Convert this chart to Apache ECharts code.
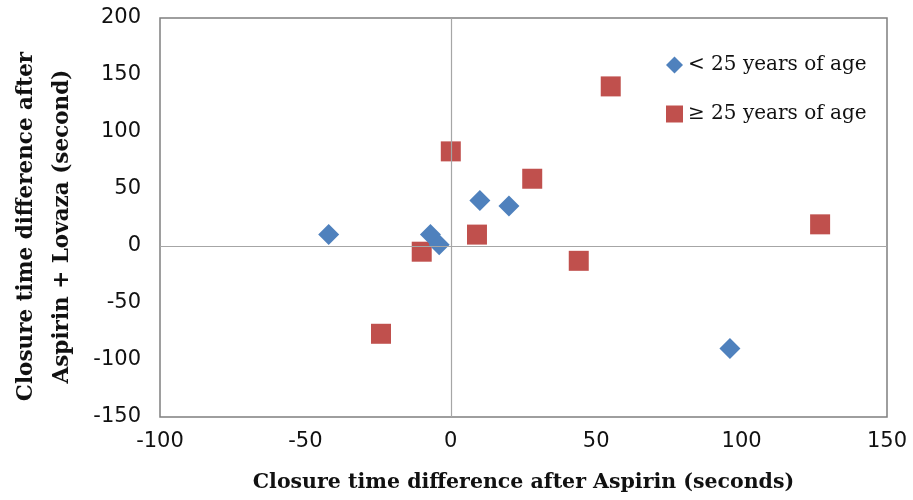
<!DOCTYPE html>
<html>
<head>
<meta charset="utf-8">
<script src="https://cdn.jsdelivr.net/npm/echarts@6/dist/echarts.min.js"></script>
<style>
  html, body { margin: 0; padding: 0; background: #fff; }
  #chart { width: 913px; height: 500px; }
</style>
</head>
<body>
<div id="chart"></div>
<script>
// values
var youngX = [-42, -7, -4, 10, 20, 96];
var youngY = [10, 10, 1, 40, 35, -90];
var oldX = [0, 55, 28, 9, -10, -24, 44, 127];
var oldY = [83, 140, 59, 10, -5, -77, -13, 19];
var seriesNames = ['< 25 years of age', '\u2265 25 years of age'];
var xTicks = { min: -100, max: 150, interval: 50 };
var yTicks = { min: -150, max: 200, interval: 50 };

function pairs(xs, ys) {
    return xs.map(function (x, i) { return [x, ys[i]]; });
}

var chart = echarts.init(document.getElementById('chart'));

var option = {
    animation: false,
    backgroundColor: '#ffffff',
    grid: {
        left: 160,
        right: 26,
        top: 18,
        bottom: 83,
        outerBoundsMode: 'none',
        containLabel: false,
        show: true,
        borderColor: '#7f7f7f',
        borderWidth: 1.5,
        backgroundColor: 'transparent'
    },
    legend: {
        orient: 'vertical',
        left: 661,
        top: 50,
        itemWidth: 17,
        itemHeight: 17,
        itemGap: 29,
        textStyle: {
            fontFamily: 'DejaVu Serif',
            fontSize: 20,
            color: '#111',
            lineHeight: 20
        },
        data: [
            { name: seriesNames[0], icon: 'diamond' },
            { name: seriesNames[1], icon: 'rect' }
        ]
    },
    xAxis: {
        type: 'value',
        min: xTicks.min,
        max: xTicks.max,
        interval: xTicks.interval,
        name: 'Closure time difference after Aspirin (seconds)',
        nameLocation: 'middle',
        nameGap: 55,
        nameTextStyle: {
            fontFamily: 'DejaVu Serif',
            fontWeight: 'bold',
            fontSize: 20.5,
            color: '#111'
        },
        axisLine: { show: false },
        axisTick: { show: false },
        splitLine: { show: false },
        axisLabel: {
            margin: 14,
            fontFamily: 'DejaVu Sans',
            fontSize: 21,
            color: '#111'
        }
    },
    yAxis: {
        type: 'value',
        min: yTicks.min,
        max: yTicks.max,
        interval: yTicks.interval,
        name: 'Closure time difference after\nAspirin + Lovaza (second)',
        nameLocation: 'middle',
        nameRotate: 90,
        nameGap: 80,
        nameTextStyle: {
            fontFamily: 'DejaVu Serif',
            fontWeight: 'bold',
            fontSize: 21.5,
            lineHeight: 36,
            color: '#111',
            padding: [0, 18, 0, 0]
        },
        axisLine: { show: false },
        axisTick: { show: false },
        splitLine: { show: false },
        axisLabel: {
            margin: 19,
            fontFamily: 'DejaVu Sans',
            fontSize: 21,
            color: '#111'
        }
    },
    series: [
        {
            name: seriesNames[0],
            type: 'scatter',
            symbol: 'diamond',
            symbolSize: 21,
            itemStyle: { color: '#4f81bd', opacity: 1 },
            z: 3,
            data: pairs(youngX, youngY),
            markLine: {
                silent: true,
                symbol: 'none',
                label: { show: false },
                lineStyle: { color: '#a6a6a6', width: 1.2, type: 'solid' },
                data: [{ xAxis: 0 }, { yAxis: 0 }]
            }
        },
        {
            name: seriesNames[1],
            type: 'scatter',
            symbol: 'rect',
            symbolSize: 20,
            itemStyle: { color: '#c0504d', opacity: 1 },
            z: 2,
            data: pairs(oldX, oldY)
        }
    ]
};

chart.setOption(option);
</script>
</body>
</html>
